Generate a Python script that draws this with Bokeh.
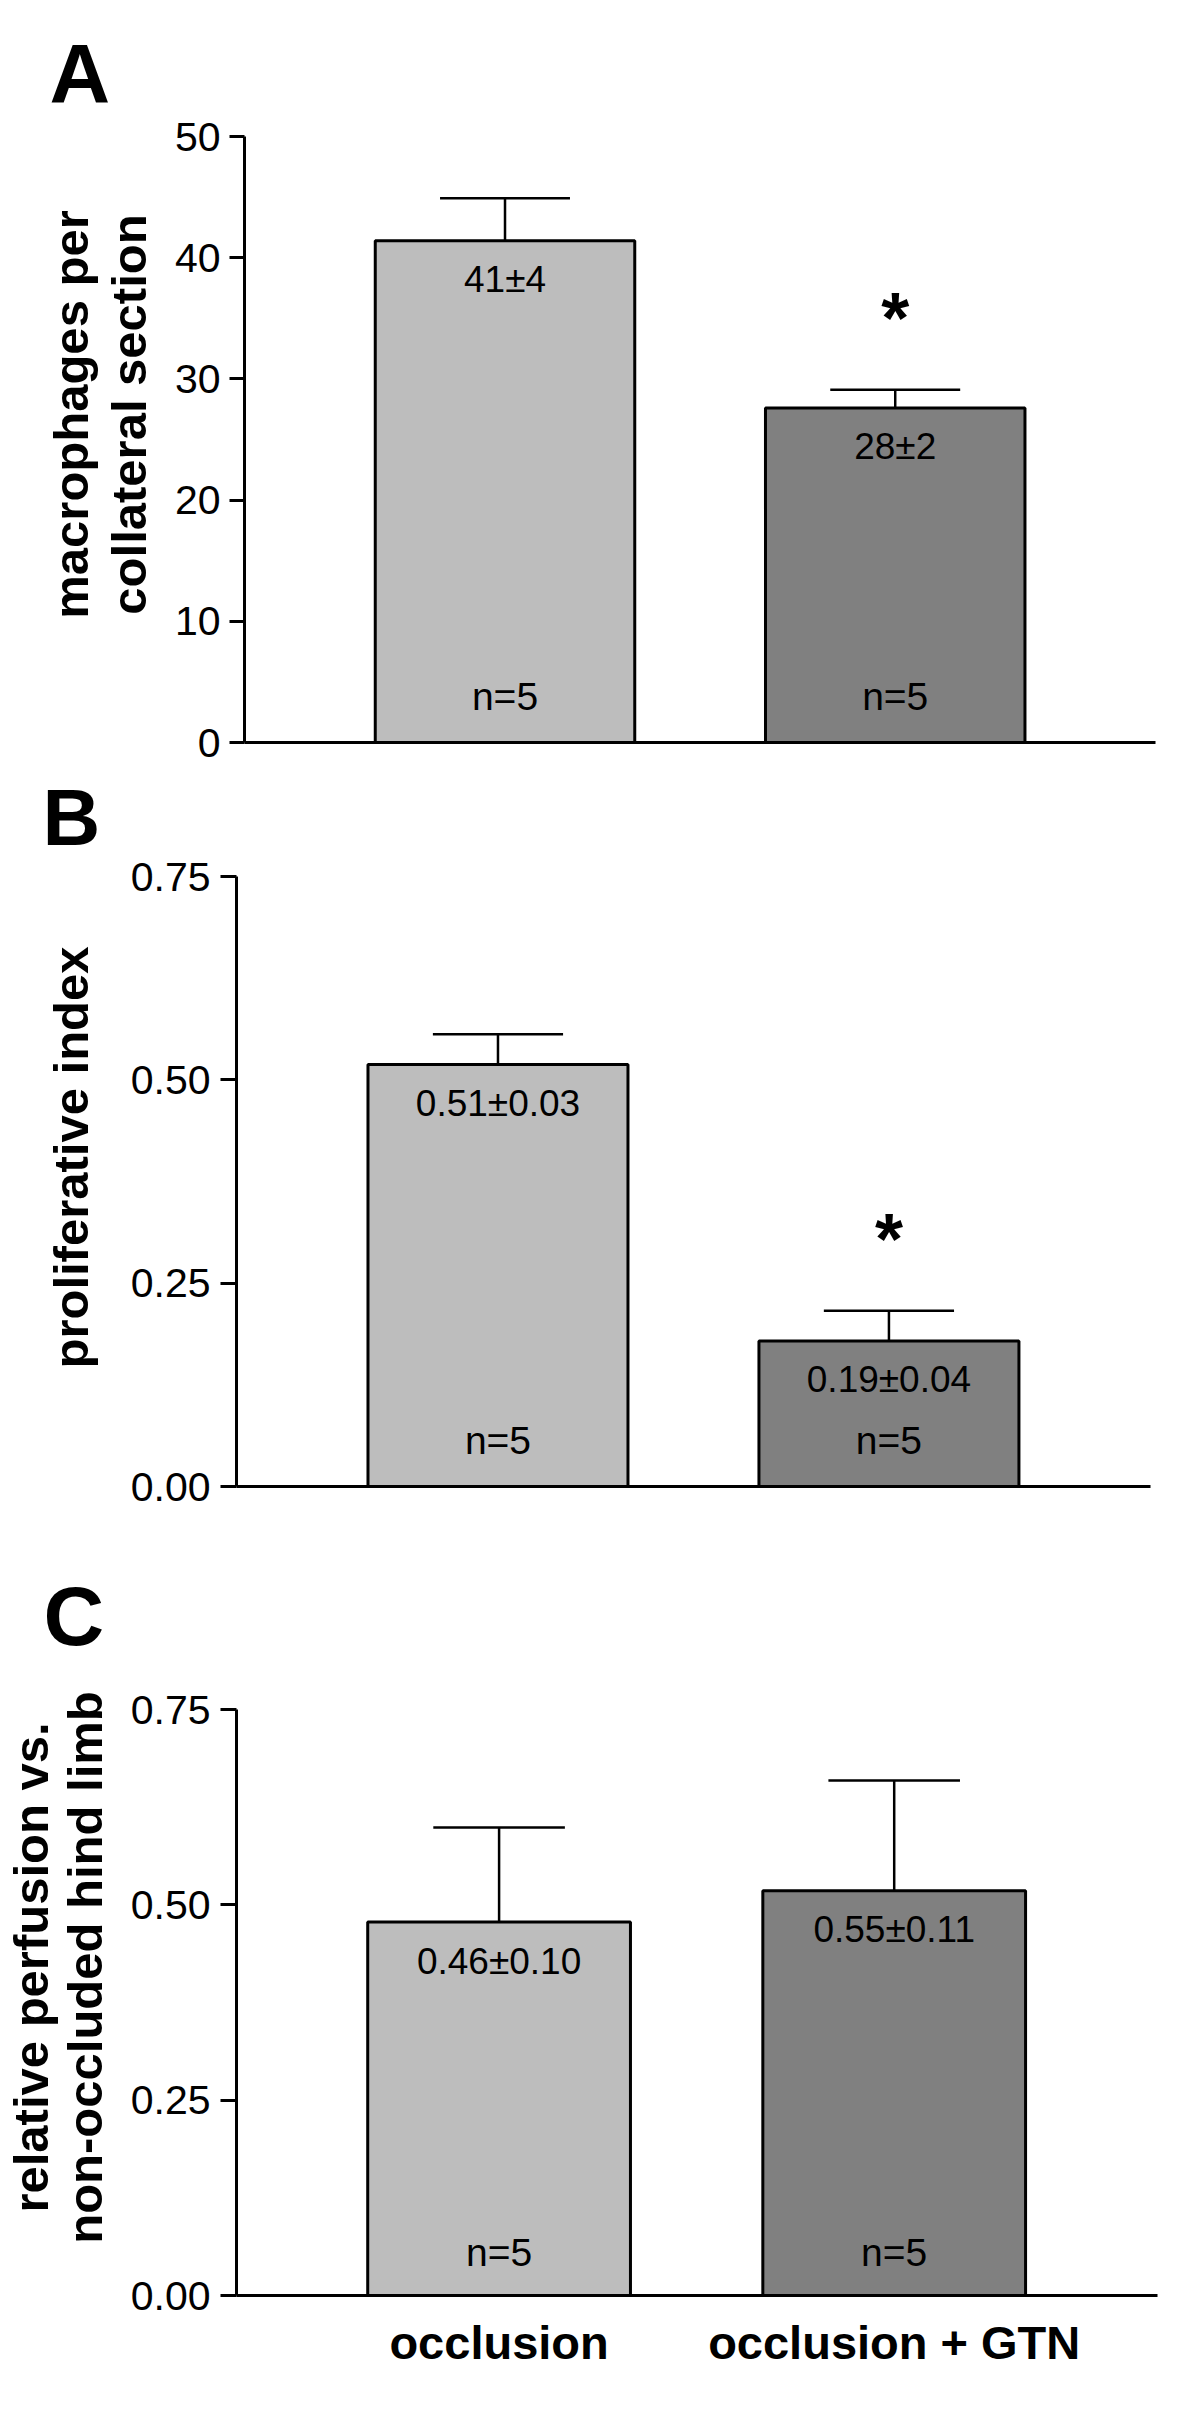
from math import pi
import numpy as np
from bokeh.plotting import figure
from bokeh.layouts import column, row
from bokeh.models import Range1d, FixedTicker, NumeralTickFormatter
from bokeh.core.properties import value
from bokeh.embed import file_html
from bokeh.resources import INLINE

# ---------------- data ----------------
categories = ["occlusion", "occlusion + GTN"]
bar_colors = ["#bdbdbd", "#808080"]

a_means = [41.4, 27.6]
a_errs = [3.5, 1.5]
a_labels = ["41±4", "28±2"]
a_n = ["n=5", "n=5"]
a_sig = ["", "*"]
a_ticks = [0, 10, 20, 30, 40, 50]
a_title = ["macrophages per", "collateral section"]

b_means = [0.519, 0.179]
b_errs = [0.037, 0.037]
b_labels = ["0.51±0.03", "0.19±0.04"]
b_n = ["n=5", "n=5"]
b_sig = ["", "*"]
b_ticks = [0.0, 0.25, 0.50, 0.75]
b_title = ["proliferative index"]

c_means = [0.478, 0.518]
c_errs = [0.121, 0.141]
c_labels = ["0.46±0.10", "0.55±0.11"]
c_n = ["n=5", "n=5"]
c_sig = ["", ""]
c_ticks = [0.0, 0.25, 0.50, 0.75]
c_title = ["relative perfusion vs.", "non-occluded hind limb"]

FONT = "Liberation Sans"
PAGE_W = 1200


def side_fig(letter, titles, lay):
    fh = lay["fb"] - lay["top"]
    sw = lay["sw"]
    s = figure(frame_width=sw, frame_height=fh,
               min_border_left=0, min_border_right=0, min_border_top=0,
               min_border_bottom=lay["bb"],
               x_range=Range1d(0, sw), y_range=Range1d(0, fh),
               x_axis_type=None, y_axis_type=None,
               output_backend="svg", toolbar_location=None)
    s.outline_line_color = None
    s.grid.visible = False
    s.background_fill_color = "white"
    s.border_fill_color = "white"

    def yy(py):
        return lay["fb"] - py

    s.text(x=lay["title_x"], y=[yy(lay["title_cy"])] * len(titles), text=titles,
           angle=pi / 2, text_align="center", text_baseline="middle",
           text_font=value(FONT), text_font_style="bold", text_font_size="49px",
           text_color="black")
    s.text(x=[lay["lx"]], y=[yy(lay["ly"])], text=[letter], text_align="left",
           text_baseline="middle", text_font=value(FONT), text_font_style="bold",
           text_font_size=lay["lsize"], text_color="black")
    return s


def panel(means, errs, labels, nlab, sig, ticks, fmt, lay, show_cats):
    ymax = ticks[-1]
    fh = lay["fb"] - lay["top"]
    y_top = ymax * fh / (lay["fb"] - lay["axis_top"])
    bl = lay["fl"] - lay["sw"]
    br = PAGE_W - lay["sw"] - bl - lay["fw"]
    p = figure(frame_width=lay["fw"], frame_height=fh,
               min_border_left=bl, min_border_right=br,
               min_border_top=0, min_border_bottom=lay["bb"],
               x_range=Range1d(lay["xs"], lay["xe"]), y_range=Range1d(0, y_top),
               output_backend="svg", toolbar_location=None)
    p.outline_line_color = None
    p.xgrid.visible = False
    p.ygrid.visible = False
    p.background_fill_color = "white"
    p.border_fill_color = "white"

    xpos = np.arange(len(categories)) + 1.0
    means = np.array(means)
    errs = np.array(errs)
    tops = means + errs

    ya = p.yaxis[0]
    ya.ticker = FixedTicker(ticks=ticks)
    ya.bounds = (0, ymax)
    ya.formatter = NumeralTickFormatter(format=fmt)
    ya.axis_line_width = 3
    ya.major_tick_line_width = 3
    ya.major_tick_out = lay["tick"]
    ya.major_tick_in = 0
    ya.minor_tick_out = 0
    ya.minor_tick_in = 0
    ya.major_label_standoff = lay["std"]
    ya.major_label_text_font = FONT
    ya.major_label_text_font_size = "41px"
    ya.major_label_text_color = "black"

    xa = p.xaxis[0]
    xa.axis_line_width = 3
    xa.major_tick_out = 0
    xa.major_tick_in = 0
    xa.minor_tick_out = 0
    xa.minor_tick_in = 0
    if show_cats:
        xa.ticker = FixedTicker(ticks=list(xpos))
        xa.major_label_overrides = {float(x): c for x, c in zip(xpos, categories)}
        xa.major_label_text_font = FONT
        xa.major_label_text_font_style = "bold"
        xa.major_label_text_font_size = "47px"
        xa.major_label_text_color = "black"
        xa.major_label_standoff = 20
    else:
        xa.ticker = FixedTicker(ticks=[])
        xa.major_label_text_font_size = "0px"

    half_cap = 0.1665
    p.segment(x0=xpos, y0=means, x1=xpos, y1=tops, line_color="black", line_width=2.5)
    p.segment(x0=xpos - half_cap, y0=tops, x1=xpos + half_cap, y1=tops,
              line_color="black", line_width=2.5)

    p.vbar(x=xpos, top=means, bottom=0, width=0.665, fill_color=bar_colors,
           line_color="black", line_width=3)

    p.text(x=xpos, y=means, text=labels, text_font=value(FONT), text_font_size="37px",
           text_align="center", text_baseline="middle", y_offset=39, text_color="black")
    p.text(x=xpos, y=np.zeros(len(xpos)), text=nlab, text_font=value(FONT),
           text_font_size="39px", text_align="center", text_baseline="middle",
           y_offset=-lay["n_off"], text_color="black")
    p.text(x=xpos, y=tops, text=sig, text_font=value(FONT), text_font_size="72px",
           text_font_style="bold", text_align="center", text_baseline="middle",
           y_offset=-72, text_color="black")
    return p


lay_a = dict(top=0, axis_top=136, fb=742, bb=23, sw=160, fl=244, fw=911,
             xs=0.3324, xe=2.667, tick=15, std=9, n_off=46,
             title_x=[70, 128], title_cy=414, lx=49, ly=73, lsize="84px")
lay_b = dict(top=765, axis_top=876, fb=1486, bb=54, sw=120, fl=236, fw=914,
             xs=0.3312, xe=2.669, tick=16, std=10, n_off=46,
             title_x=[70], title_cy=1157, lx=42, ly=817, lsize="80px")
lay_c = dict(top=1540, axis_top=1709, fb=2295, bb=106, sw=120, fl=236, fw=921,
             xs=0.3354, xe=2.6664, tick=16, std=10, n_off=43,
             title_x=[30, 84], title_cy=1967, lx=43, ly=1615, lsize="84px")

pa = panel(a_means, a_errs, a_labels, a_n, a_sig, a_ticks, "0", lay_a, False)
pb = panel(b_means, b_errs, b_labels, b_n, b_sig, b_ticks, "0.00", lay_b, False)
pc = panel(c_means, c_errs, c_labels, c_n, c_sig, c_ticks, "0.00", lay_c, True)

sa = side_fig("A", a_title, lay_a)
sb = side_fig("B", b_title, lay_b)
sc = side_fig("C", c_title, lay_c)

layout = column(row(sa, pa, spacing=0), row(sb, pb, spacing=0), row(sc, pc, spacing=0),
                spacing=0)
open("out.html", "w").write(file_html(layout, INLINE))
